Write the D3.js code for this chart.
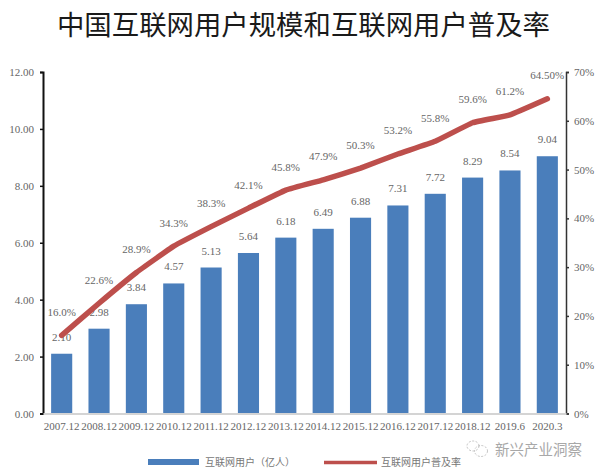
<!DOCTYPE html>
<html><head><meta charset="utf-8">
<script src="https://cdn.jsdelivr.net/npm/d3@7"></script>
<style>
html,body{margin:0;padding:0;background:#fff;overflow:hidden}
svg{display:block}
text{font-family:"Liberation Serif",serif;fill:#666;font-size:11px}
.cjk{font-family:"Noto Sans CJK SC",sans-serif}
</style></head><body><svg id="c" width="600" height="476"></svg>
<script>
const categories=["2007.12","2008.12","2009.12","2010.12","2011.12","2012.12","2013.12","2014.12","2015.12","2016.12","2017.12","2018.12","2019.6","2020.3"];
const users=[2.10,2.98,3.84,4.57,5.13,5.64,6.18,6.49,6.88,7.31,7.72,8.29,8.54,9.04];
const rate=[16.0,22.6,28.9,34.3,38.3,42.1,45.8,47.9,50.3,53.2,55.8,59.6,61.2,64.5];
const rateLabels=["16.0%","22.6%","28.9%","34.3%","38.3%","42.1%","45.8%","47.9%","50.3%","53.2%","55.8%","59.6%","61.2%","64.50%"];
const leftTicks=[0,2,4,6,8,10,12];
const rightTicks=[0,10,20,30,40,50,60,70];
const titleText="中国互联网用户规模和互联网用户普及率";
const legendBar="互联网用户（亿人）";
const legendLine="互联网用户普及率";
const watermark="新兴产业洞察";

const svg=d3.select("#c");
const L=43,R=566,T=72,B=413.5;
const x=d3.scaleBand().domain(categories).range([L,R]).paddingInner(0.435).paddingOuter(0.2175);
const yL=d3.scaleLinear().domain([0,12]).range([B,T]);
const yR=d3.scaleLinear().domain([0,70]).range([B,T]);
const cx=c=>x(c)+x.bandwidth()/2;

svg.append("text").attr("class","cjk").attr("x",303.5).attr("y",35).attr("text-anchor","middle")
  .style("font-size","27.4px").style("fill","#1a1a1a").text(titleText);

svg.selectAll(".bar").data(users).join("rect").attr("class","bar")
  .attr("x",(d,i)=>x(categories[i])).attr("width",x.bandwidth())
  .attr("y",d=>yL(d)).attr("height",d=>B-yL(d)).attr("fill","#4a7ebb");

const ax=svg.append("g").attr("transform",`translate(${L},0)`)
  .call(d3.axisLeft(yL).tickValues(leftTicks).tickFormat(d3.format(".2f")).tickSize(3).tickPadding(6));
ax.select(".domain").attr("stroke","#111").attr("stroke-width",2);
ax.selectAll("line").attr("stroke","#111").attr("stroke-width",1.5);
ax.selectAll("text").style("font-size","11px").style("fill","#666");
const ar=svg.append("g").attr("transform",`translate(${R},0)`)
  .call(d3.axisRight(yR).tickValues(rightTicks).tickFormat(d=>d+"%").tickSize(3).tickPadding(5));
ar.select(".domain").attr("stroke","#333").attr("stroke-width",1.5);
ar.selectAll("line").attr("stroke","#333").attr("stroke-width",1.5);
ar.selectAll("text").style("font-size","11px").style("fill","#666");
const ab=svg.append("g").attr("transform",`translate(0,${B})`)
  .call(d3.axisBottom(x).tickSize(0).tickPadding(9));
ab.select(".domain").attr("stroke","#d4d4d4").attr("stroke-width",2);
ab.selectAll("text").style("font-size","11px").style("fill","#666");

svg.selectAll(".vl").data(users).join("text").attr("class","vl")
  .attr("x",(d,i)=>cx(categories[i])).attr("y",d=>yL(d)-13).attr("text-anchor","middle")
  .text(d=>d.toFixed(2));

svg.append("path").datum(rate).attr("fill","none").attr("stroke","#bd4f4c").attr("stroke-width",5.5)
  .attr("stroke-linecap","round").attr("stroke-linejoin","round")
  .attr("d",d3.line().x((d,i)=>cx(categories[i])).y(d=>yR(d)).curve(d3.curveCardinal.tension(0.7)));

svg.selectAll(".rl").data(rate).join("text").attr("class","rl")
  .attr("x",(d,i)=>cx(categories[i])).attr("y",d=>yR(d)-19.5).attr("text-anchor","middle")
  .text((d,i)=>rateLabels[i]);

svg.append("rect").attr("x",148).attr("y",459).attr("width",51).attr("height",6).attr("fill","#4a7ebb");
svg.append("text").attr("class","cjk").attr("x",205).attr("y",466).style("font-size","10px").style("fill","#777").text(legendBar);
svg.append("line").attr("x1",324).attr("x2",377).attr("y1",462.5).attr("y2",462.5).attr("stroke","#bd4f4c").attr("stroke-width",3.5);
svg.append("text").attr("class","cjk").attr("x",381).attr("y",466).style("font-size","10px").style("fill","#777").text(legendLine);

const wm=svg.append("g").attr("fill","none").attr("stroke","#b5b5b5").attr("stroke-width",0.8);
wm.append("ellipse").attr("cx",473).attr("cy",446).attr("rx",6).attr("ry",5).attr("stroke-dasharray","2 1.5");
wm.append("ellipse").attr("cx",481).attr("cy",451).attr("rx",6.5).attr("ry",5.5).attr("stroke-dasharray","2 1.5");
svg.append("text").attr("class","cjk").attr("x",495).attr("y",455).style("font-size","14.5px").style("fill","#a8a8a8").text(watermark);
</script></body></html>
